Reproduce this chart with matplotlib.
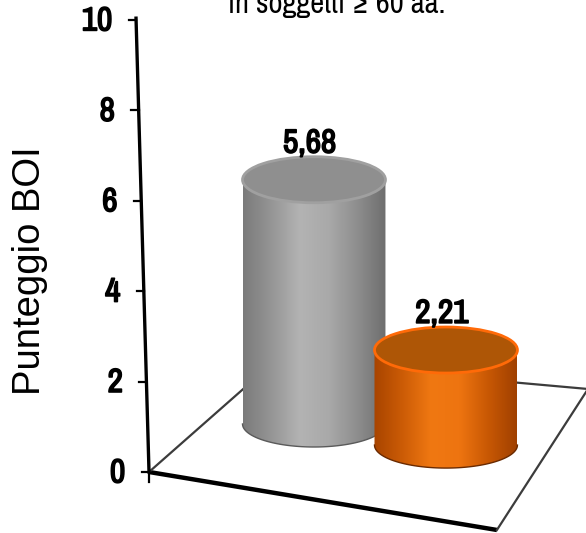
import numpy as np
import matplotlib
matplotlib.use('Agg')
import matplotlib.pyplot as plt
import matplotlib.patheffects as pe
from matplotlib.patches import Ellipse, PathPatch
from matplotlib.path import Path
from matplotlib.colors import LinearSegmentedColormap

# data
values = [5.68, 2.21]
yticks = [0, 2, 4, 6, 8, 10]
title = 'in soggetti \u2265 60 aa.'
ylabel = 'Punteggio BOI'

# colours of the two cylinders: side gradient, top, rim, bottom outline
side_cols = [['#7a7a7a', '#969696', '#b3b3b3', '#a9a9a9', '#8e8e8e', '#6e6e6e'],
             ['#a84400', '#cc5c06', '#f07812', '#ee7410', '#c85804', '#a04000']]
top_cols = ['#8f8f8f', '#ae5606']
rim_cols = ['#a0a0a0', '#ff6a08']
edge_cols = ['#5a5a5a', '#6a2a00']

NARROW = ['Archivo Narrow', 'Liberation Sans', 'DejaVu Sans']
FONT = ['Liberation Sans', 'DejaVu Sans']
# the narrow font has no bold face here, so thicken the strokes
BOLD = [pe.withStroke(linewidth=1.2, foreground='black')]

fig = plt.figure(figsize=(5.86, 5.33), dpi=100)

# front plane: value axis and floor
ax = fig.add_axes([0, 0, 1, 1])
ax.set_xlim(-2.379, 2.061)
ax.set_ylim(-1.35, 10.442)
ax.axis('off')

# back plane: cylinders (a bit smaller scale because of perspective)
bx = fig.add_axes([0, 0, 1, 1])
bx.patch.set_visible(False)
bx.axis('off')

# floor outline
fl, fr, br, bl = (-1.25, 0), (1.386, -1.283), (2.076, 1.836), (-0.295, 2.456)
ax.plot([fl[0], fr[0]], [fl[1], fr[1]], color='black', lw=3.2, solid_capstyle='butt')
ax.plot([fr[0], br[0]], [fr[1], br[1]], color='#3c3c3c', lw=1.6)
ax.plot([br[0], bl[0]], [br[1], bl[1]], color='#3c3c3c', lw=1.6)
ax.plot([bl[0], fl[0]], [bl[1], fl[1]], color='#3c3c3c', lw=1.6)

# slanted value axis
lean = -0.0098
ax.plot([fl[0], fl[0] + lean * 10.04], [0, 10.04], color='black', lw=2.4)
ax.plot([fl[0], fl[0]], [0, -0.22], color='black', lw=1.6)
for t in yticks:
    xa = fl[0] + lean * t
    ax.plot([xa - 0.055, xa], [t, t], color='black', lw=1.6)
    ax.annotate(str(t), xy=(xa, t), xytext=(-17, -1), textcoords='offset points',
                ha='right', va='center', fontsize=24, fontweight='bold', family=NARROW,
                path_effects=BOLD)

# cylinders
x = np.arange(len(values))
width = 1.083
semi = 0.535
drop = 0.49
bx.set_xlim(-2.379, 2.061)

t_arc = np.linspace(np.pi, 2 * np.pi, 80)
for i, v in enumerate(values):
    base = -drop * x[i]
    top = base + v
    xl, xr = x[i] - width / 2, x[i] + width / 2
    arc = np.column_stack([x[i] + width / 2 * np.cos(t_arc), base + semi * np.sin(t_arc)])
    verts = np.vstack([[xl, top], [xl, base], arc, [xr, top], [xl, top]])
    codes = [Path.MOVETO] + [Path.LINETO] * (len(verts) - 2) + [Path.CLOSEPOLY]
    body = PathPatch(Path(verts, codes), facecolor='none', edgecolor='none',
                     transform=bx.transData)
    bx.add_patch(body)
    cmap = LinearSegmentedColormap.from_list('side%d' % i, side_cols[i])
    grad = np.linspace(0, 1, 256).reshape(1, -1)
    im = bx.imshow(grad, cmap=cmap, extent=[xl, xr, base - semi, top],
                   aspect='auto', interpolation='bicubic', zorder=2 + i * 3)
    im.set_clip_path(body)
    bx.plot(arc[:, 0], arc[:, 1], color=edge_cols[i], lw=1.0, zorder=3 + i * 3)
    bx.add_patch(Ellipse((x[i], top), width, 2 * semi, facecolor=top_cols[i],
                         edgecolor=rim_cols[i], lw=2.0, zorder=4 + i * 3))
    bx.annotate(f'{v:.2f}'.replace('.', ','), xy=(x[i], top + semi), xytext=(-3, 3),
                textcoords='offset points', ha='center', va='baseline',
                fontsize=24, fontweight='bold', family=NARROW, zorder=10,
                path_effects=BOLD)

bx.set_xlim(-2.379, 2.061)
bx.set_ylim(-2.535, 9.860)

fig.text(0.575, 1 - 13 / 533, title, ha='center', va='baseline', fontsize=22,
         family=NARROW)
fig.text(30 / 586, 1 - 271 / 533, ylabel, rotation=90, ha='center', va='center',
         fontsize=27.5, family=FONT)

fig.savefig('out.png', dpi=100)
